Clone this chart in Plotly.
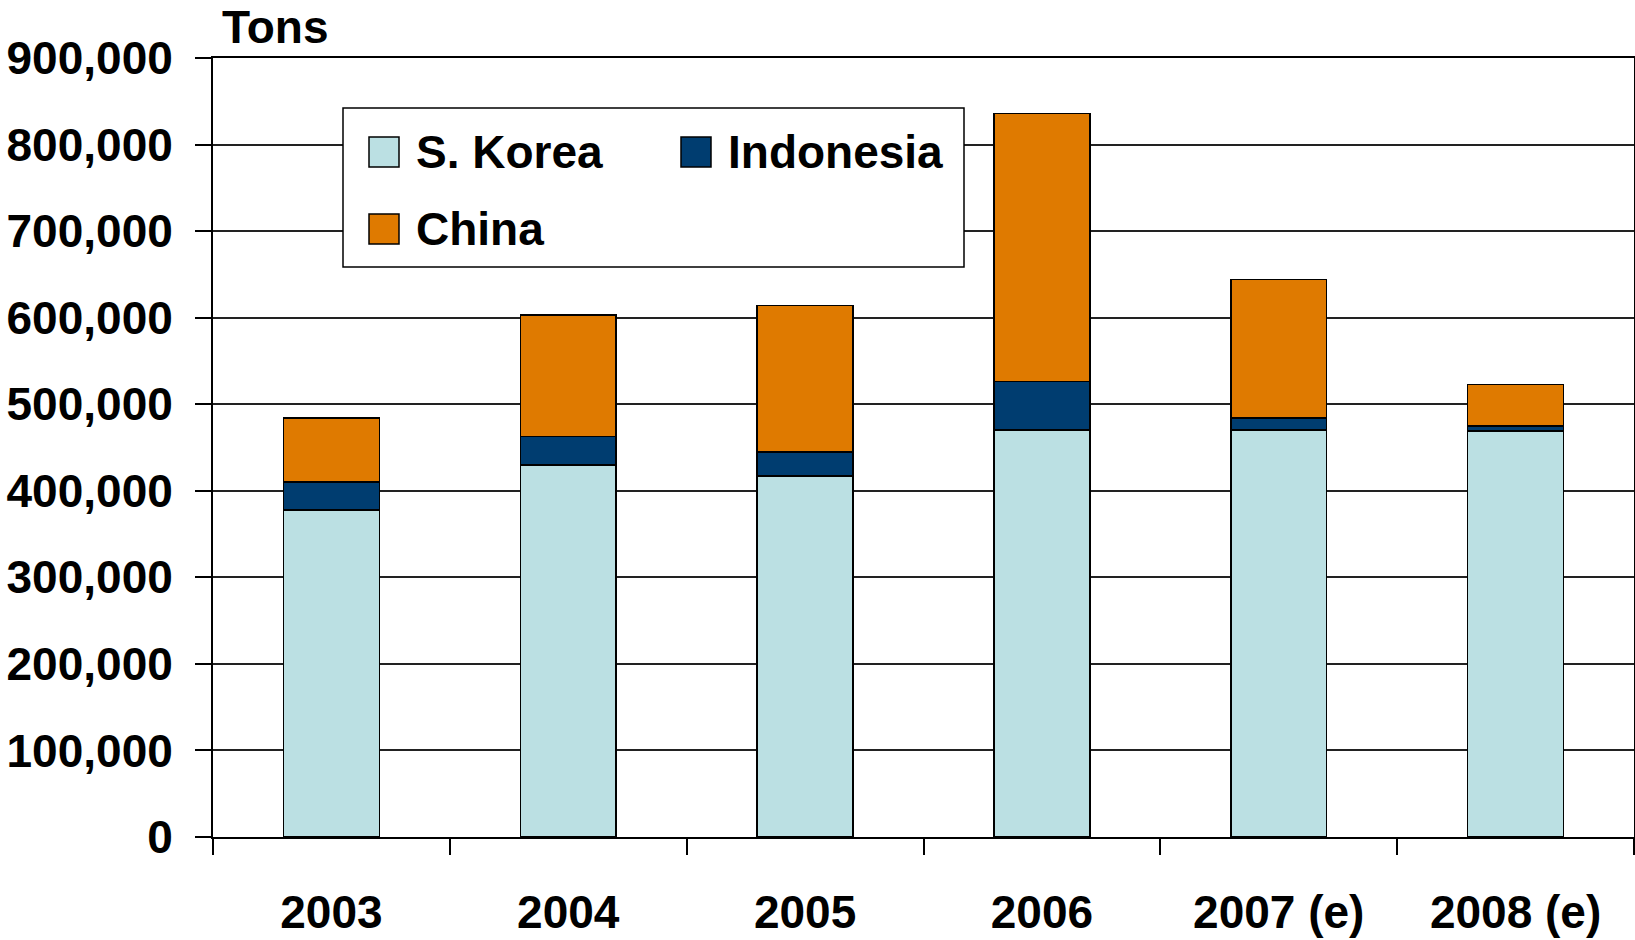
import plotly.graph_objects as go

# Categories and series (tons)
years = ["2003", "2004", "2005", "2006", "2007 (e)", "2008 (e)"]
s_korea = [378000, 430000, 417000, 470000, 470000, 469000]
indonesia = [32000, 33000, 28000, 56000, 14000, 6000]
china = [74000, 140000, 169000, 310000, 160000, 48000]

series_names = ["S. Korea", "Indonesia", "China"]
series_colors = ["#BBE0E3", "#003D70", "#DF7A00"]
y_ticks = [0, 100000, 200000, 300000, 400000, 500000, 600000, 700000, 800000, 900000]

FONT = "Liberation Sans, Arial, sans-serif"
W, H = 1635, 940
L, R, T, B = 213, 1, 58, 103
PW, PH = W - L - R, H - T - B


def px_x(px):
    return (px - L) / PW


def px_y(py):
    return (H - B - py) / PH


fig = go.Figure()
for name, vals, col in zip(series_names, [s_korea, indonesia, china], series_colors):
    fig.add_trace(go.Bar(
        x=years, y=vals, name=name,
        marker=dict(color=col, line=dict(color="#000000", width=1.5)),
        showlegend=False,
    ))

fig.update_layout(
    width=W, height=H,
    margin=dict(l=L, r=R, t=T, b=B, pad=0, autoexpand=False),
    paper_bgcolor="white", plot_bgcolor="white",
    barmode="stack", bargap=0.595,
    font=dict(family=FONT, size=46, color="black"),
)

fig.update_xaxes(
    type="category",
    showline=True, linecolor="#000000", linewidth=2, mirror=True,
    ticks="outside", tickson="boundaries", ticklen=16, tickwidth=1.5, tickcolor="#000000",
    tickfont=dict(family=FONT, size=46, color="black", weight="bold"),
    ticklabelstandoff=34,
    showgrid=False,
)

fig.update_yaxes(
    range=[0, 900000],
    tickvals=y_ticks,
    ticktext=[f"{v:,}" for v in y_ticks],
    showline=True, linecolor="#000000", linewidth=2, mirror=True,
    ticks="outside", ticklen=16, tickwidth=1.5, tickcolor="#000000",
    tickfont=dict(family=FONT, size=46, color="black", weight="bold"),
    ticklabelstandoff=13,
    showgrid=True, gridcolor="#222222", gridwidth=1.5,
    zeroline=False,
)

shapes = []
annotations = []

# Axis unit label
annotations.append(dict(
    xref="paper", yref="paper", x=px_x(221), y=px_y(0),
    xanchor="left", yanchor="top", showarrow=False, borderpad=0,
    text="<b>Tons</b>", font=dict(family=FONT, size=46, color="black"),
))

# Legend box
shapes.append(dict(
    type="rect", xref="paper", yref="paper",
    x0=px_x(343), x1=px_x(964), y0=px_y(267), y1=px_y(108),
    line=dict(color="#000000", width=1.5), fillcolor="white", layer="above",
))

# Legend entries: (series index, symbol left px, symbol top px)
legend_slots = [(0, 369, 137), (1, 681, 137), (2, 369, 214)]
for idx, sx, sy in legend_slots:
    shapes.append(dict(
        type="rect", xref="paper", yref="paper",
        x0=px_x(sx), x1=px_x(sx + 30), y0=px_y(sy + 30), y1=px_y(sy),
        line=dict(color="#000000", width=1.5), fillcolor=series_colors[idx], layer="above",
    ))
    annotations.append(dict(
        xref="paper", yref="paper", x=px_x(sx + 45), y=px_y(sy + 15),
        xanchor="left", yanchor="middle", showarrow=False,
        text=f"<b>{series_names[idx]}</b>",
        font=dict(family=FONT, size=46, color="black"),
    ))

fig.update_layout(shapes=shapes, annotations=annotations)

fig.write_html("out.html")
